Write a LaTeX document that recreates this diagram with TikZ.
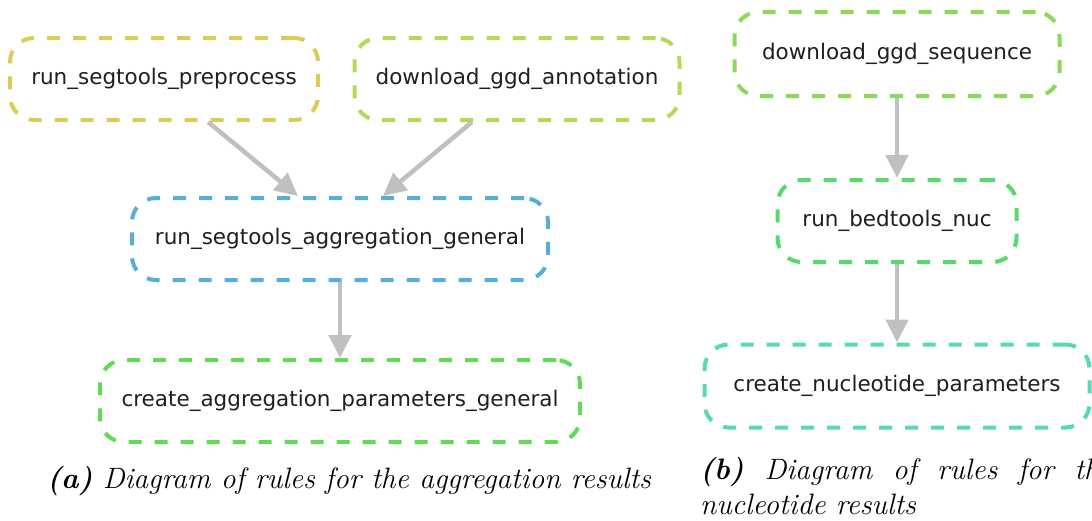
\documentclass[tikz,border=0pt]{standalone}
\usepackage{fontspec}
\newfontfamily\rulefont{DejaVu Sans}
\usetikzlibrary{arrows,arrows.meta,positioning}

\definecolor{ruleyellow}{RGB}{217,204,87}
\definecolor{rulelime}{RGB}{178,217,87}
\definecolor{rulelimeb}{RGB}{140,217,87}
\definecolor{ruleblue}{RGB}{87,175,217}
\definecolor{rulegreen}{RGB}{100,217,87}
\definecolor{rulegreenb}{RGB}{87,217,110}
\definecolor{ruleteal}{RGB}{87,217,180}
\definecolor{edgegray}{RGB}{192,192,192}

\tikzset{
  rulebox/.style={draw, line width=4pt, dash pattern=on 13pt off 13pt,
    rounded corners=24pt, font=\rulefont\fontsize{21.5}{26}\selectfont,
    text=black!88, inner sep=0pt},
  ruleedge/.style={draw=edgegray, line width=4.5pt,
    -{Triangle[length=23pt,width=22pt,fill=edgegray]}},
  capfont/.style={font=\fontsize{29.5}{35}\selectfont\itshape}
}

\begin{document}
\begin{tikzpicture}[x=1pt,y=-1pt]
  \useasboundingbox (0,0) rectangle (1092,520);
  % diagram (a)
  \node[rulebox, draw=ruleyellow, minimum width=308pt, minimum height=82pt] (prep) at (164,79) {run\_segtools\_preprocess};
  \node[rulebox, draw=rulelime, minimum width=325pt, minimum height=82pt] (annot) at (517,79) {download\_ggd\_annotation};
  \node[rulebox, draw=ruleblue, minimum width=416pt, minimum height=82pt] (aggr) at (340,239) {run\_segtools\_aggregation\_general};
  \node[rulebox, draw=rulegreen, minimum width=480pt, minimum height=82pt] (aggpar) at (340,401) {create\_aggregation\_parameters\_general};
  \draw[ruleedge] ([xshift=44pt]prep.south) -- ([xshift=-42pt]aggr.north);
  \draw[ruleedge] ([xshift=-45pt]annot.south) -- ([xshift=43pt]aggr.north);
  \draw[ruleedge] (aggr) -- (aggpar);
  % diagram (b)
  \node[rulebox, draw=rulelimeb, minimum width=325pt, minimum height=84pt] (seq) at (897,54) {download\_ggd\_sequence};
  \node[rulebox, draw=rulegreenb, minimum width=239pt, minimum height=82pt] (nuc) at (897,221) {run\_bedtools\_nuc};
  \node[rulebox, draw=ruleteal, minimum width=385pt, minimum height=83pt] (nucpar) at (897,386) {create\_nucleotide\_parameters};
  \draw[ruleedge] (seq) -- (nuc);
  \draw[ruleedge] (nuc) -- (nucpar);
  % captions
  \node[capfont, anchor=west, inner sep=0pt] (capa) at (47,481) {\textbf{(a)} Diagram of rules for the aggregation results};
  \node[capfont, anchor=north west, inner sep=0pt, text width=412pt, align=justify] (capb) at (700,457) {\hbadness=10000\textbf{(b)} Diagram of rules for the \mbox{nucleotide} results};
\end{tikzpicture}
\end{document}
